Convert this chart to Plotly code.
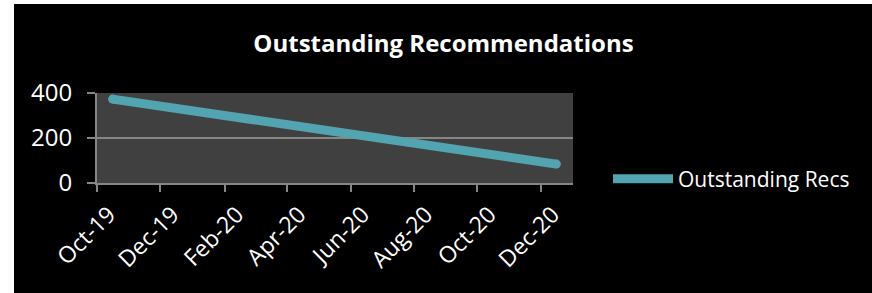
import plotly.graph_objects as go

# Data
dates = ["2019-10-16", "2020-12-16"]
outstanding_recs = [373, 84]
series_name = "Outstanding Recs"
title_text = "Outstanding Recommendations"

W, H = 872, 293
L, R, T, B = 97, 299, 93, 110
pw = W - L - R
ph = H - T - B

line_color = "#52A5B0"
grid_color = "#868686"

fig = go.Figure()
fig.add_trace(go.Scatter(
    x=dates, y=outstanding_recs, mode="lines", name=series_name,
    line=dict(color=line_color, width=9),
))
# round caps
fig.add_trace(go.Scatter(
    x=dates, y=outstanding_recs, mode="markers", showlegend=False,
    marker=dict(color=line_color, size=9, line=dict(width=0)),
    hoverinfo="skip",
))

def px_x(p):
    return (p - L) / pw

def px_y(p):
    return (H - B - p) / ph

fig.update_layout(
    width=W, height=H,
    margin=dict(l=L, r=R, t=T, b=B),
    paper_bgcolor="#000000",
    plot_bgcolor="#404040",
    font=dict(family="Open Sans", color="#FFFFFF"),
    title=dict(text=f"<b>{title_text}</b>", x=(252 + 635) / 2 / W, xanchor="center",
               y=1 - 44 / H, yanchor="middle",
               font=dict(size=24, color="#FFFFFF", family="Open Sans")),
    showlegend=True,
    legend=dict(x=px_x(608), xanchor="left", y=px_y(179), yanchor="middle",
                font=dict(size=21, color="#FFFFFF"), itemwidth=60,
                bgcolor="rgba(0,0,0,0)"),
    xaxis=dict(
        type="date", range=["2019-10-01", "2021-01-01"],
        tick0="2019-10-01", dtick="M2", tickformat="%b-%y",
        tickangle=-45, tickfont=dict(size=23, color="#FFFFFF"),
        ticks="outside", ticklen=7, tickwidth=2, tickcolor=grid_color,
        showline=True, linecolor=grid_color, linewidth=2,
        showgrid=False, zeroline=False, ticklabelshift=12,
    ),
    yaxis=dict(
        range=[0, 400], dtick=200, tickfont=dict(size=24, color="#FFFFFF"),
        ticks="outside", ticklen=8, tickwidth=2, tickcolor=grid_color,
        showline=True, linecolor=grid_color, linewidth=2,
        showgrid=True, gridcolor=grid_color, gridwidth=2, zeroline=False,
        ticklabelstandoff=10,
    ),
    shapes=[
        dict(type="rect", xref="paper", yref="paper",
             x0=px_x(-5), x1=px_x(14), y0=px_y(H + 5), y1=px_y(-5),
             fillcolor="#FFFFFF", line=dict(width=0), layer="above"),
        dict(type="rect", xref="paper", yref="paper",
             x0=px_x(-5), x1=px_x(W + 5), y0=px_y(4), y1=px_y(-5),
             fillcolor="#FFFFFF", line=dict(width=0), layer="above"),
    ],
)

fig.write_html(
    "out.html",
    config={"displayModeBar": False},
    post_script="document.body.style.margin='0';document.body.style.overflow='hidden';",
)
